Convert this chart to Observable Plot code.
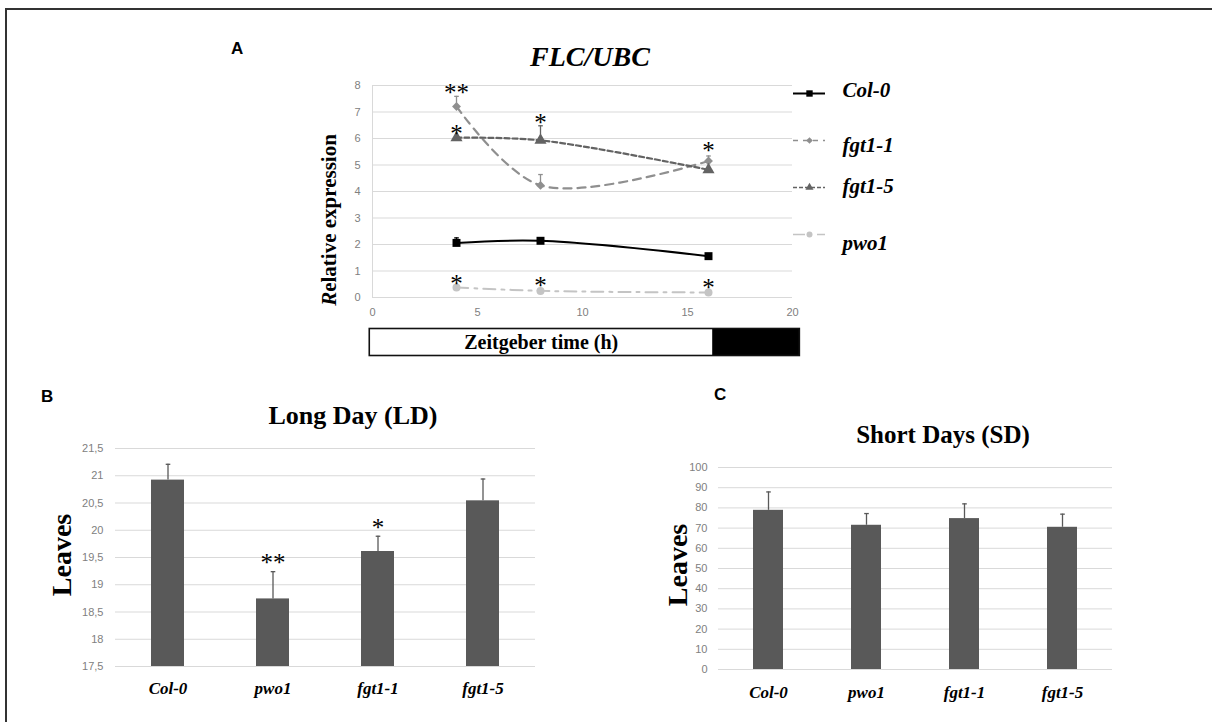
<!DOCTYPE html>
<html><head><meta charset="utf-8">
<script src="https://cdn.jsdelivr.net/npm/d3@7"></script>
<script src="https://cdn.jsdelivr.net/npm/@observablehq/plot@0.6"></script>
<style>
body{margin:0;background:#fff;}
#root{position:relative;width:1212px;height:722px;overflow:hidden;background:#fff;}
.frame{position:absolute;left:5px;top:8px;width:1400px;height:900px;border-left:2px solid #333;border-top:2px solid #333;}
.part{position:absolute;}
.letter{position:absolute;font-family:"Liberation Sans",Arial,sans-serif;font-weight:bold;font-size:17px;line-height:1;}
.title{position:absolute;font-family:"Liberation Serif","Times New Roman",serif;font-weight:bold;transform:translate(-50%,-50%);white-space:nowrap;color:#000;}
.ylab{position:absolute;font-family:"Liberation Serif","Times New Roman",serif;font-weight:bold;transform:translate(-50%,-50%) rotate(-90deg);white-space:nowrap;color:#000;}
</style></head>
<body><div id="root"><div class="frame"></div></div>
<script>
// ---------- Panel A data ----------
const seriesNames = ["Col-0", "fgt1-1", "fgt1-5", "pwo1"];
const timeHours = [4, 8, 16];
const col0Expr = [2.06, 2.14, 1.56];
const col0Err = [0.19, 0.04, 0.04];
const fgt11Expr = [7.21, 4.23, 5.15];
const fgt11Err = [0.38, 0.41, 0.19];
const fgt15Expr = [6.03, 5.93, 4.82];
const fgt15Err = [0.05, 0.55, 0.05];
const pwo1Expr = [0.38, 0.25, 0.19];
const pwo1Err = [0.03, 0.03, 0.03];
const starTimesA = [4, 4, 8, 16, 4, 8, 16];
const starHeightsA = [7.94, 6.41, 6.83, 5.74, 0.75, 0.65, 0.57];
const starLabelsA = ["**", "*", "*", "*", "*", "*", "*"];
const yTicksA = [0, 1, 2, 3, 4, 5, 6, 7, 8];
const xTicksA = [0, 5, 10, 15, 20];
const lightPhases = ["light", "dark"];
const phaseStart = [-0.13, 16.2];
const phaseEnd = [16.2, 20.35];
const barLabel = "Zeitgeber time (h)";

// ---------- Panel B / C data ----------
const genotypes = ["Col-0", "pwo1", "fgt1-1", "fgt1-5"];
const ldLeaves = [20.92, 18.74, 19.61, 20.54];
const ldErr = [0.29, 0.50, 0.28, 0.40];
const ldTicks = [17.5, 18, 18.5, 19, 19.5, 20, 20.5, 21, 21.5];
const ldStarGenotypes = ["pwo1", "fgt1-1"];
const ldStarHeights = [19.51, 20.15];
const ldStarLabels = ["**", "*"];
const sdLeaves = [78.8, 71.4, 74.7, 70.4];
const sdErr = [9.1, 5.8, 7.3, 6.5];
const sdTicks = [0, 10, 20, 30, 40, 50, 60, 70, 80, 90, 100];

// ---------- styles ----------
const styleA = {
  "Col-0": {stroke: "#000000", width: 2, dash: null, symbol: "square", r: 4.5, legendDash: null, dy: -3},
  "fgt1-1": {stroke: "#8f8f8f", width: 2.2, dash: "8,6", symbol: "diamond2", r: 4, legendDash: "5,5", dy: 5},
  "fgt1-5": {stroke: "#636363", width: 2.2, dash: "5,3", symbol: "triangle", r: 4.5, legendDash: "4,2", dy: -1},
  "pwo1": {stroke: "#c4c4c4", width: 2, dash: "12,6,3,6", symbol: "circle", r: 4, legendDash: "12,5,2,5", dy: 9}
};
const capSymbol = {draw(ctx, size) { const r = Math.sqrt(size / Math.PI); ctx.moveTo(-r, 0); ctx.lineTo(r, 0); }};
const tickFont = {fontFamily: "'Liberation Sans', Arial, sans-serif", fontSize: "11px", color: "#808080", overflow: "visible", background: "transparent"};
const serif = "'Liberation Serif', 'Times New Roman', serif";

const exprBySeries = {"Col-0": col0Expr, "fgt1-1": fgt11Expr, "fgt1-5": fgt15Expr, "pwo1": pwo1Expr};
const errBySeries = {"Col-0": col0Err, "fgt1-1": fgt11Err, "fgt1-5": fgt15Err, "pwo1": pwo1Err};
const rowsA = seriesNames.map(name => timeHours.map((t, i) => ({series: name, time: t, value: exprBySeries[name][i], err: errBySeries[name][i]})));
const starsA = starTimesA.map((t, i) => ({time: t, y: starHeightsA[i], label: starLabelsA[i]}));

const root = document.getElementById("root");
function place(node, left, top) { const d = document.createElement("div"); d.className = "part"; d.style.left = left + "px"; d.style.top = top + "px"; d.appendChild(node); root.appendChild(d); }
function html(cls, text, x, y, size) { const d = document.createElement("div"); d.className = cls; d.innerHTML = text; d.style.left = x + "px"; d.style.top = y + "px"; if (size) d.style.fontSize = size + "px"; root.appendChild(d); }

// ---------- Panel A ----------
const marksA = [
  Plot.gridY(yTicksA, {stroke: "#d9d9d9", strokeOpacity: 1}),
  Plot.ruleX([0], {stroke: "#d9d9d9"}),
  Plot.axisY(yTicksA, {tickSize: 0, tickPadding: 12, label: null}),
  Plot.axisX(xTicksA, {tickSize: 0, tickPadding: 11, label: null})
];
seriesNames.forEach((name, k) => {
  const s = styleA[name], rows = rowsA[k];
  marksA.push(
    Plot.ruleX(rows, {x: "time", y1: "value", y2: d => d.value + d.err, stroke: s.stroke, strokeWidth: 1.3}),
    Plot.dot(rows, {x: "time", y: d => d.value + d.err, symbol: capSymbol, r: 2.3, stroke: s.stroke, strokeWidth: 1.3}),
    Plot.line(rows, {x: "time", y: "value", curve: "catmull-rom", stroke: s.stroke, strokeWidth: s.width, strokeDasharray: s.dash}),
    Plot.dot(rows, {x: "time", y: "value", symbol: s.symbol, r: s.r, fill: s.stroke, stroke: "none"})
  );
});
marksA.push(Plot.text(starsA, {x: "time", y: "y", text: "label", fontSize: 25, fontFamily: serif, fill: "#000", dy: 6}));

const plotA = Plot.plot({
  width: 480, height: 260, marginLeft: 52, marginRight: 8, marginTop: 10, marginBottom: 38,
  x: {domain: [0, 20], axis: null}, y: {domain: [0, 8], axis: null},
  style: tickFont,
  marks: marksA
});
place(plotA, 320, 75);

// Zeitgeber bar
const phases = lightPhases.map((p, i) => ({phase: p, start: phaseStart[i], end: phaseEnd[i]}));
const plotBar = Plot.plot({
  width: 480, height: 30, marginLeft: 52, marginRight: 8, marginTop: 1.5, marginBottom: 1.5,
  x: {domain: [0, 20], axis: null}, y: {axis: null},
  style: {overflow: "visible", background: "transparent"},
  marks: [
    Plot.rectX(phases.filter(d => d.phase === "light"), {x1: "start", x2: "end", fill: "white"}),
    Plot.rectX(phases.filter(d => d.phase === "dark"), {x1: "start", x2: "end", fill: "black"}),
    Plot.rectX([{start: phaseStart[0], end: phaseEnd[phaseEnd.length - 1]}], {x1: "start", x2: "end", fill: "none", stroke: "#111", strokeWidth: 1.6}),
    Plot.text(phases.filter(d => d.phase === "light"), {x: d => (d.start + d.end) / 2, frameAnchor: "middle", text: () => barLabel, fontSize: 20, fontWeight: "bold", fontFamily: serif, fill: "#000"})
  ]
});
place(plotBar, 320, 326.5);

// Legend A
const legendMarks = [];
seriesNames.forEach(name => {
  const s = styleA[name];
  legendMarks.push(
    Plot.ruleY([name], {y: d => d, x1: 8, x2: 40, stroke: s.stroke, strokeWidth: name === "Col-0" ? 2 : 1.6, strokeDasharray: s.legendDash}),
    Plot.dot([name], {x: 24, y: d => d, symbol: s.symbol, r: name === "Col-0" ? 3.6 : 3, fill: s.stroke}),
    Plot.text([name], {x: 57, y: d => d, text: d => d, textAnchor: "start", dy: s.dy, fontSize: 21, fontWeight: "bold", fontStyle: "italic", fontFamily: serif, fill: "#000"})
  );
});
const legendA = Plot.plot({
  width: 140, height: 190, margin: 0,
  x: {type: "identity", axis: null},
  y: {type: "point", domain: seriesNames, range: [23, 164], padding: 0, axis: null},
  style: {overflow: "visible", background: "transparent"},
  marks: legendMarks
});
place(legendA, 785, 70);

// ---------- Bar charts ----------
function barPanel(values, errs, ticks, base, opts, stars) {
  const rows = genotypes.map((g, i) => ({genotype: g, leaves: values[i], err: errs[i]}));
  const marks = [
    Plot.gridY(ticks, {stroke: "#d9d9d9", strokeOpacity: 1}),
    Plot.axisY(ticks, {tickSize: 0, tickPadding: opts.yPad, label: null, tickFormat: d => String(d).replace(".", ",")}),
    Plot.axisX({tickSize: 0, tickPadding: opts.xPad, fontSize: 17, fontWeight: "bold", fontStyle: "italic", fontFamily: serif, fill: "#000", label: null}),
    Plot.ruleX(rows, {x: "genotype", y1: "leaves", y2: d => d.leaves + d.err, stroke: "#595959", strokeWidth: 1.3}),
    Plot.dot(rows, {x: "genotype", y: d => d.leaves + d.err, symbol: capSymbol, r: 2.3, stroke: "#595959", strokeWidth: 1.3}),
    Plot.barY(rows, {x: "genotype", y1: base, y2: "leaves", fill: "#595959"})
  ];
  if (stars) marks.push(Plot.text(stars, {x: "genotype", y: "y", text: "label", fontSize: 25, fontFamily: serif, fill: "#000", dy: 6}));
  return Plot.plot({
    width: opts.width, height: opts.height, marginLeft: opts.ml, marginRight: opts.mr, marginTop: opts.mt, marginBottom: opts.mb,
    x: {domain: genotypes, paddingInner: 0.69, paddingOuter: 0.345, axis: null},
    y: {domain: [ticks[0], ticks[ticks.length - 1]], axis: null},
    style: tickFont,
    marks
  });
}
const starsB = ldStarGenotypes.map((g, i) => ({genotype: g, y: ldStarHeights[i], label: ldStarLabels[i]}));
const plotB = barPanel(ldLeaves, ldErr, ldTicks, ldTicks[0], {width: 510, height: 280, ml: 75, mr: 15, mt: 18, mb: 44, yPad: 12, xPad: 15}, starsB);
place(plotB, 40, 430);
const plotC = barPanel(sdLeaves, sdErr, sdTicks, sdTicks[0], {width: 490, height: 265, ml: 78, mr: 18, mt: 17, mb: 46, yPad: 11, xPad: 16}, null);
place(plotC, 640, 450);

// ---------- Text ----------
html("letter", "A", 231, 40, 17);
html("letter", "B", 41, 388, 17);
html("letter", "C", 714, 386, 17);
html("title", "<i>FLC/UBC</i>", 590, 57, 28);
html("ylab", "<i>R</i>elative expression", 329, 220, 21);
html("title", "Long Day (LD)", 353, 416, 26);
html("ylab", "Leaves", 62, 555, 28);
html("title", "Short Days (SD)", 943, 435, 25);
html("ylab", "Leaves", 678, 565, 28);
</script>
</body></html>
